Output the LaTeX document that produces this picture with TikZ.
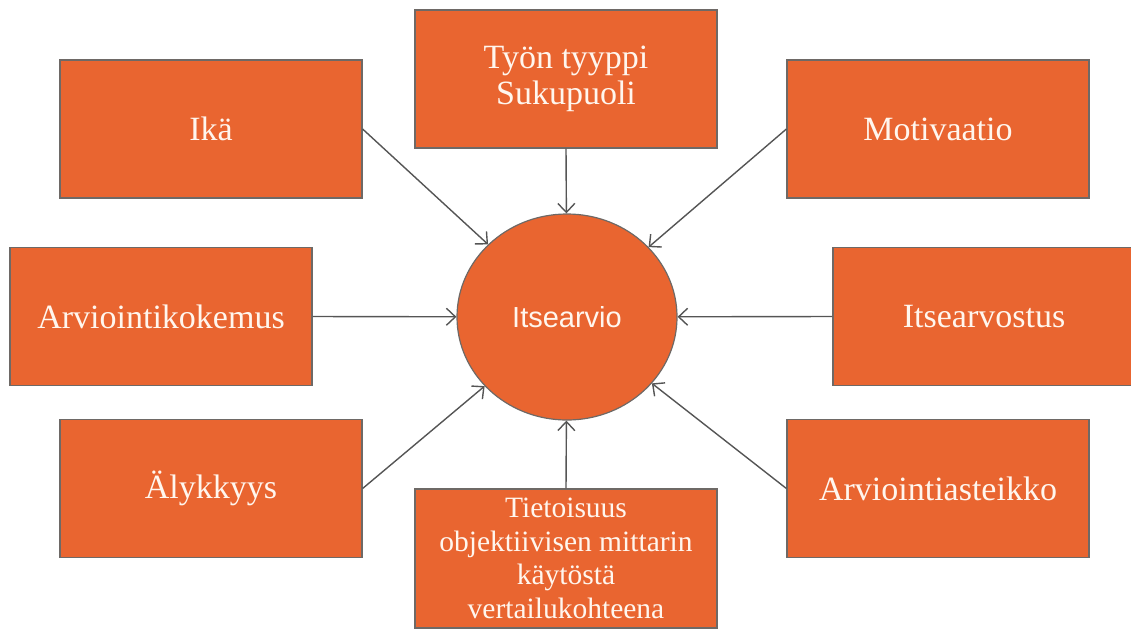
\documentclass[tikz,border=0pt]{standalone}
\usepackage{fontspec}
\setmainfont{Liberation Serif}
\newfontfamily\circfont{Liberation Sans}
\usetikzlibrary{arrows.meta,shapes.geometric}
\definecolor{boxfill}{RGB}{233,101,48}
\definecolor{boxline}{RGB}{110,105,102}
\definecolor{arrcol}{RGB}{85,85,85}
\definecolor{txtcol}{RGB}{255,246,238}
\tikzset{
  factor/.style={draw=boxline, line width=1.2pt, fill=boxfill, minimum width=302pt, minimum height=138pt,
    inner sep=0pt, align=center, text=txtcol, font=\fontsize{34}{36}\selectfont},
  smallfactor/.style={factor, font=\fontsize{29.5}{33.5}\selectfont},
  hub/.style={draw=boxline, line width=1.2pt, fill=boxfill, ellipse, minimum width=220pt, minimum height=206pt,
    inner sep=0pt, text=txtcol, font=\circfont\fontsize{29}{32}\selectfont},
  link/.style={draw=arrcol, line width=1.4pt, -{Straight Barb[length=9pt,width=17pt,line width=1.4pt]}}
}
\begin{document}
\begin{tikzpicture}[x=1pt,y=-1pt]
\useasboundingbox (0,0) rectangle (1131,630);
\node[hub] (c) at (567,317) {Itsearvio};
\node[factor] (ika) at (211,129) {Ikä};
\node[factor] (tyon) at (566,79) {Työn tyyppi\\Sukupuoli};
\node[factor] (moti) at (938,129) {Motivaatio};
\node[factor] (ark) at (161,316.5) {Arviointikokemus};
\node[factor] (itsv) at (984,316.5) {Itsearvostus};
\node[factor] (aly) at (211,488.5) {Älykkyys};
\node[smallfactor, minimum height=139pt] (tiet) at (566,558.5) {Tietoisuus\\objektiivisen mittarin\\käytöstä\\vertailukohteena};
\node[factor] (aste) at (938,488.5) {Arviointiasteikko};
\draw[link] (ika.east) -- (c);
\draw[link] (tyon.south) -- (c);
\draw[link] (moti.west) -- (c);
\draw[link] (ark.east) -- (c);
\draw[link] (itsv.west) -- (c);
\draw[link] (aly.east) -- (c);
\draw[link] (tiet.north) -- (c);
\draw[link] (aste.west) -- (c);
\end{tikzpicture}
\end{document}
